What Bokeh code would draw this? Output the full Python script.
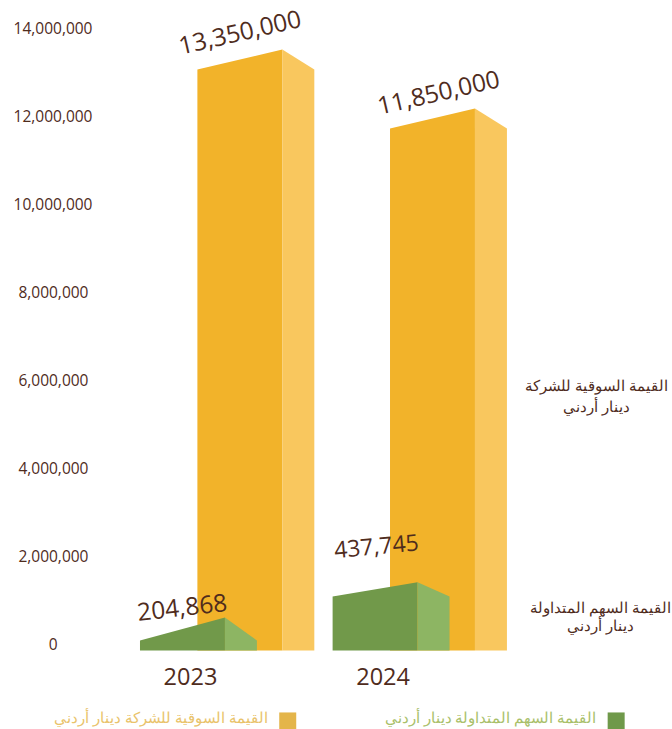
from bokeh.plotting import figure
from bokeh.models import FixedTicker, Range1d
from bokeh.core.properties import value
from bokeh.embed import file_html
from bokeh.resources import INLINE
import math

years = [2023, 2024]
market_values = [13350000, 11850000]
traded_values = [204868, 437745]
# tops of the drawn prisms
market_front_top = [13050000, 11710000]
market_back_top = [13500000, 12160000]
traded_front_top = [90000, 1090000]
traded_back_top = [610000, 1410000]
tick_values = [0, 2000000, 4000000, 6000000, 8000000, 10000000, 12000000, 14000000]
market_name = ["القيمة السوقية للشركة", "دينار أردني"]
traded_name = ["القيمة السهم المتداولة", "دينار أردني"]
legend_market = "القيمة السوقية للشركة دينار أردني"
legend_traded = "القيمة السهم المتداولة دينار أردني"

LATIN = "Open Sans"
BROWN = "#4f2c1d"
ORANGE, ORANGE_SIDE = "#f2b32a", "#f9c75e"
GREEN, GREEN_SIDE = "#71994a", "#8db563"
BASE = -136000

p = figure(width=672, height=729, output_backend="svg", toolbar_location=None,
           x_range=Range1d(-0.467, 2.5025), y_range=Range1d(-1929000, 14613000),
           min_border_left=100, min_border_right=0, min_border_top=0, min_border_bottom=0,
           outline_line_color=None, background_fill_color="white")
p.grid.visible = False


def prism(pos, left, mid, right, front, back, c_front, c_side):
    p.patch([pos + left, pos + mid, pos + mid, pos + left],
            [BASE, BASE, back, front], color=c_front, line_color=None)
    p.patch([pos + mid, pos + right, pos + right, pos + mid],
            [BASE, BASE, front, back], color=c_side, line_color=None)


for i in range(len(years)):
    prism(i, 0.036, 0.477, 0.643, market_front_top[i], market_back_top[i], ORANGE, ORANGE_SIDE)
for i in range(len(years)):
    prism(i, -0.262, 0.179, 0.345, traded_front_top[i], traded_back_top[i], GREEN, GREEN_SIDE)

# value labels
def vlabel(x, y, txt, size, deg):
    p.text([x], [y], text=[txt], angle=math.radians(deg), text_font=value(LATIN),
           text_font_size=size, text_color=BROWN, text_align="center", text_baseline="middle")


vlabel(0.257, market_back_top[0] + 390000, f"{market_values[0]:,}", "24.5px", 13)
vlabel(1.288, market_back_top[1] + 365000, f"{market_values[1]:,}", "24.5px", 13)
vlabel(-0.043, traded_back_top[0] + 230000, f"{traded_values[0]:,}", "24.5px", 6.5)
vlabel(0.965, traded_back_top[1] + 830000, f"{traded_values[1]:,}", "23px", 5.5)

# Arabic series names on the right
ar = dict(text_font=value(LATIN), text_font_size="15px", text_color=BROWN,
          text_align="center", text_baseline="middle")
p.text([2.11, 2.11], [5895000, 5422000], text=market_name, **ar)
p.text([2.13, 2.13], [840000, 432000], text=traded_name, **ar)

# legend
p.scatter([2.21], [-1735000], marker="square", size=17, color="#6f994a", line_color=None)
p.text([2.105], [-1657000], text=[legend_traded], text_font=value(LATIN), text_font_size="14.5px",
       text_color="#a9c06a", text_align="right", text_baseline="middle", level="annotation")
p.scatter([0.505], [-1735000], marker="square", size=17, color="#e4b54a", line_color=None)
p.text([0.40], [-1657000], text=[legend_market], text_font=value(LATIN), text_font_size="14.5px",
       text_color="#e9c36b", text_align="right", text_baseline="middle", level="annotation")

# axes
y = p.yaxis[0]
y.ticker = FixedTicker(ticks=tick_values)
y.major_label_overrides = {
    t: (f"{t:,}" + ("\u00a0" * 8 + "\u2009" if t == 0 else ("" if t >= 10000000 else "\u00a0"))) for t in tick_values
}
y.axis_line_color = None
y.major_tick_line_color = None
y.major_tick_out = 0
y.major_tick_in = 0
y.minor_tick_line_color = None
y.major_label_standoff = 8
y.major_label_text_font = LATIN
y.major_label_text_font_size = "15.5px"
y.major_label_text_color = BROWN

x = p.xaxis[0]
x.fixed_location = BASE
x.ticker = FixedTicker(ticks=[0, 1])
x.major_label_overrides = {0: str(years[0]), 1: str(years[1])}
x.axis_line_color = None
x.major_tick_line_color = None
x.major_tick_out = 0
x.major_tick_in = 0
x.minor_tick_line_color = None
x.major_label_standoff = 18
x.major_label_text_font = LATIN
x.major_label_text_font_size = "23.5px"
x.major_label_text_color = BROWN

open("out.html", "w").write(file_html(p, INLINE))
